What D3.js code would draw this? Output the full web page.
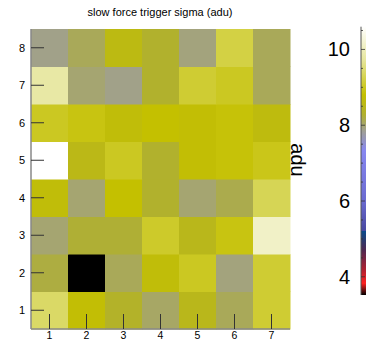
<!DOCTYPE html>
<html>
<head>
<meta charset="utf-8">
<script src="https://cdn.jsdelivr.net/npm/d3@7"></script>
<style>
  body { margin: 0; background: #fff; }
  text { font-family: "Liberation Sans", Arial, Helvetica, sans-serif; }
</style>
</head>
<body>
<svg id="chart" width="366" height="340"></svg>
<script>
// channel numbers along x and y
var cols = [1, 2, 3, 4, 5, 6, 7];
var rows = [1, 2, 3, 4, 5, 6, 7, 8];

// sigma values per row (row 1 first), column 1..7
var row1 = [9.4, 8.75, 8.35, 8.05, 8.5, 8.1, 9.1];
var row2 = [8.2, 0.0, 8.1, 8.7, 9.0, 7.95, 9.1];
var row3 = [8.0, 8.25, 8.25, 9.05, 8.5, 8.9, 10.1];
var row4 = [8.7, 8.0, 8.8, 8.3, 8.0, 8.15, 9.3];
var row5 = [11.0, 8.55, 9.0, 8.3, 8.75, 8.85, 8.95];
var row6 = [9.0, 8.9, 8.7, 8.8, 8.75, 8.85, 8.65];
var row7 = [9.8, 8.0, 7.9, 8.3, 9.1, 9.0, 8.1];
var row8 = [7.9, 8.1, 8.6, 8.3, 7.95, 9.2, 8.1];
var values = [row1, row2, row3, row4, row5, row6, row7, row8];

var zTicks = [4, 6, 8, 10];
var zMin = 3.52, zMax = 10.6;

// palette stops (value -> colour)
var stopVals = [3.52, 3.83, 4.18, 4.7, 5.2, 5.21, 6.0, 7.34, 7.87, 8.27, 8.8, 9.72, 10.6];
var stopCols = ["#000000", "#ff2020", "#b02030", "#502850", "#0a4a8a", "#4848a0", "#6a6ad0",
                "#8888f0", "#a0a090", "#b0b030", "#c4c000", "#e6e69c", "#ffffff"];

var svg = d3.select("#chart");
var pL = 31, pR = 290, pT = 29, pB = 329;

var x = d3.scaleBand().domain(cols).range([pL, pR]);
var y = d3.scaleBand().domain(rows).range([pB, pT]);
var color = d3.scaleLinear().domain(stopVals).range(stopCols).clamp(true);

var cells = [];
values.forEach(function (r, i) {
  r.forEach(function (v, j) { cells.push({ c: cols[j], r: rows[i], v: v }); });
});

svg.append("g").selectAll("rect")
  .data(cells)
  .enter().append("rect")
  .attr("x", function (d) { return x(d.c); })
  .attr("y", function (d) { return y(d.r); })
  .attr("width", x.bandwidth() + 0.5)
  .attr("height", y.bandwidth() + 0.5)
  .attr("fill", function (d) { return color(d.v); });

// frame lines (left and bottom)
svg.append("line").attr("x1", pL).attr("x2", pL).attr("y1", pT).attr("y2", pB)
  .attr("stroke", "#888").attr("stroke-width", 1.5);
svg.append("line").attr("x1", pL).attr("x2", pR).attr("y1", pB).attr("y2", pB)
  .attr("stroke", "#888").attr("stroke-width", 1.5);

// y ticks, inside
var gy = svg.append("g");
gy.selectAll("line").data(rows).enter().append("line")
  .attr("x1", pL).attr("x2", pL + 13)
  .attr("y1", function (d) { return y(d) + y.bandwidth() / 2; })
  .attr("y2", function (d) { return y(d) + y.bandwidth() / 2; })
  .attr("stroke", "#333").attr("stroke-width", 1);
gy.selectAll("text").data(rows).enter().append("text")
  .attr("x", pL - 6)
  .attr("y", function (d) { return y(d) + y.bandwidth() / 2 + 4; })
  .attr("text-anchor", "end")
  .attr("font-size", 11)
  .text(function (d) { return d; });

// x ticks, inside
var gx = svg.append("g");
gx.selectAll("line").data(cols).enter().append("line")
  .attr("x1", function (d) { return x(d) + x.bandwidth() / 2; })
  .attr("x2", function (d) { return x(d) + x.bandwidth() / 2; })
  .attr("y1", pB).attr("y2", pB - 15)
  .attr("stroke", "#333").attr("stroke-width", 1);
gx.selectAll("text").data(cols).enter().append("text")
  .attr("x", function (d) { return x(d) + x.bandwidth() / 2; })
  .attr("y", pB + 10)
  .attr("text-anchor", "middle")
  .attr("font-size", 10.5)
  .text(function (d) { return d; });

// title
svg.append("text")
  .attr("x", 160).attr("y", 16)
  .attr("text-anchor", "middle")
  .attr("font-size", 11)
  .text("slow force trigger sigma (adu)");

// colour bar
var zx = 361, zTop = 26.7, zBot = 295;
var z = d3.scaleLinear().domain([zMin, zMax]).range([zBot, zTop]);
var defs = svg.append("defs");
var grad = defs.append("linearGradient").attr("id", "zgrad")
  .attr("x1", 0).attr("y1", 1).attr("x2", 0).attr("y2", 0);
grad.selectAll("stop").data(stopVals).enter().append("stop")
  .attr("offset", function (d) { return (d - zMin) / (zMax - zMin); })
  .attr("stop-color", function (d, i) { return stopCols[i]; });
svg.append("rect").attr("x", zx).attr("y", zTop).attr("width", 10).attr("height", zBot - zTop)
  .attr("fill", "url(#zgrad)");
svg.append("line").attr("x1", zx).attr("x2", zx).attr("y1", zTop).attr("y2", zBot)
  .attr("stroke", "#555").attr("stroke-width", 1);

var minor = d3.range(4, 10.6, 0.5);
svg.append("g").selectAll("line").data(minor).enter().append("line")
  .attr("x1", zx).attr("x2", function (d) { return zx + (d % 2 === 0 ? 4 : 2); })
  .attr("y1", function (d) { return z(d); }).attr("y2", function (d) { return z(d); })
  .attr("stroke", "#333").attr("stroke-width", 0.8);

svg.append("g").selectAll("text").data(zTicks).enter().append("text")
  .attr("x", 350)
  .attr("y", function (d) { return z(d) + 7; })
  .attr("text-anchor", "end")
  .attr("font-size", 20)
  .text(function (d) { return d; });

svg.append("text")
  .attr("transform", "translate(291,160) rotate(90)")
  .attr("text-anchor", "middle")
  .attr("font-size", 20)
  .text("adu");
</script>
</body>
</html>
